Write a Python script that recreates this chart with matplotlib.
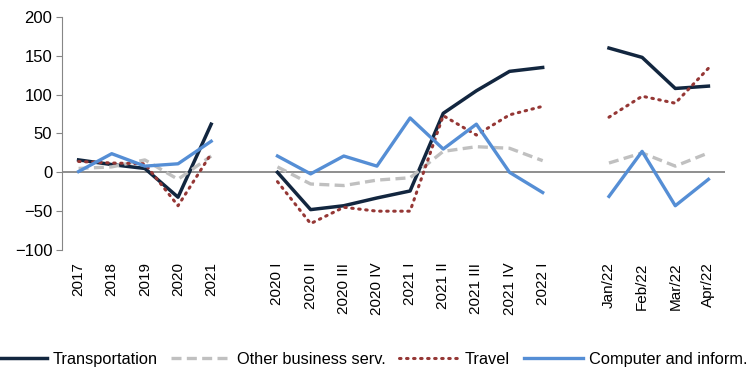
import numpy as np
import matplotlib.pyplot as plt

plt.rcParams['font.family'] = ['Liberation Sans', 'DejaVu Sans']

# annual, quarterly and monthly periods (one empty slot between groups)
years = ['2017', '2018', '2019', '2020', '2021']
quarters = ['2020 I', '2020 II', '2020 III', '2020 IV', '2021 I',
            '2021 II', '2021 III', '2021 IV', '2022 I']
months = ['Jan/22', 'Feb/22', 'Mar/22', 'Apr/22']

transport_y = [16, 10, 5, -32, 62]
transport_q = [0, -48, -43, -33, -24, 76, 105, 130, 135]
transport_m = [160, 148, 108, 111]

business_y = [5, 7, 16, -9, 21]
business_q = [7, -15, -17, -10, -7, 27, 33, 31, 15]
business_m = [12, 25, 8, 25]

travel_y = [14, 12, 11, -43, 24]
travel_q = [-12, -66, -45, -50, -50, 73, 48, 74, 85]
travel_m = [71, 98, 89, 134]

computer_y = [1, 24, 8, 11, 40]
computer_q = [21, -2, 21, 8, 70, 30, 62, 0, -26]
computer_m = [-31, 27, -43, -9]

x_y = np.arange(len(years))
x_q = np.arange(len(quarters)) + len(years) + 1
x_m = np.arange(len(months)) + x_q[-1] + 2

series = [
    ('Transportation', transport_y, transport_q, transport_m,
     dict(color='#12263f', lw=2.5, ls='-')),
    ('Other business serv.', business_y, business_q, business_m,
     dict(color='#c0c0c0', lw=2.4, ls=(0, (3, 1.6)))),
    ('Travel', travel_y, travel_q, travel_m,
     dict(color='#953735', lw=2.2, ls=(0, (0.5, 1.8)), dash_capstyle='round')),
    ('Computer and inform.', computer_y, computer_q, computer_m,
     dict(color='#558ed5', lw=2.4, ls='-')),
]

fig = plt.figure(figsize=(7.51, 3.68), dpi=100)
ax = fig.add_axes([62 / 751, 118 / 368, 663 / 751, 233 / 368])

for name, vy, vq, vm, style in series:
    ax.plot(x_y, vy, label=name, **style)
    ax.plot(x_q, vq, **style)
    ax.plot(x_m, vm, **style)

ax.axhline(0, color='#868686', lw=1.3, zorder=0)

ax.set_xlim(-0.5, x_m[-1] + 0.5)
ax.set_ylim(-100, 200)
ax.set_yticks(range(-100, 201, 50))
ax.set_xticks(np.concatenate([x_y, x_q, x_m]))
ax.set_xticklabels(years + quarters + months, rotation=90, fontsize=11)
ax.tick_params(axis='x', length=0, pad=9)
ax.tick_params(axis='y', labelsize=12, length=4, color='#868686', pad=3)

for side in ['top', 'right', 'bottom']:
    ax.spines[side].set_visible(False)
ax.spines['left'].set_color('#868686')

fig.legend(loc='center', bbox_to_anchor=(0.489, 0.024), ncol=4, frameon=False,
           fontsize=11.8, handlelength=3.65, handletextpad=0.33, columnspacing=0.85)

fig.savefig('out.png', dpi=100)
